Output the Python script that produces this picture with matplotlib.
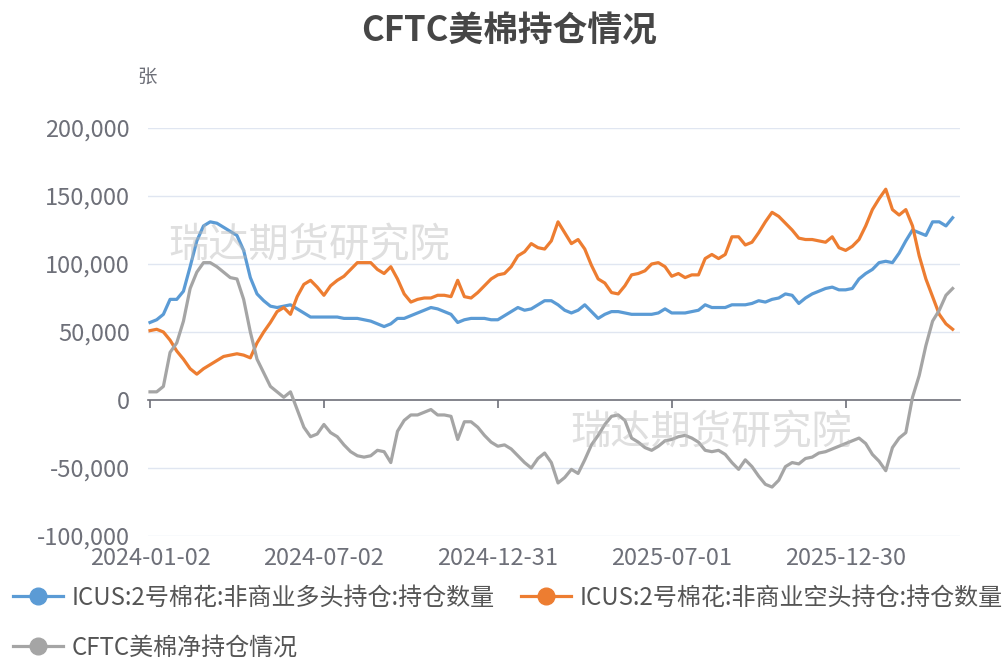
import matplotlib
matplotlib.use("Agg")
import matplotlib.pyplot as plt
from matplotlib.lines import Line2D
from matplotlib.ticker import FuncFormatter
import numpy as np
import pandas as pd

plt.rcParams['font.family'] = ['Noto Sans CJK SC', 'DejaVu Sans']

# weekly report dates (category axis)
dates = pd.date_range('2024-01-02', periods=121, freq='7D').strftime('%Y-%m-%d')

# ICUS 2号棉花 非商业多头持仓 (thousand contracts)
long_k = [57, 59, 63, 74, 74, 80, 98, 117, 128, 131, 130, 127, 124, 121, 110, 90, 78, 73, 69, 68,
          69, 70, 67, 64, 61, 61, 61, 61, 61, 60, 60, 60, 59, 58, 56, 54, 56, 60, 60, 62,
          64, 66, 68, 67, 65, 63, 57, 59, 60, 60, 60, 59, 59, 62, 65, 68, 66, 67, 70, 73,
          73, 70, 66, 64, 66, 70, 65, 60, 63, 65, 65, 64, 63, 63, 63, 63, 64, 67, 64, 64,
          64, 65, 66, 70, 68, 68, 68, 70, 70, 70, 71, 73, 72, 74, 75, 78, 77, 71, 75, 78,
          80, 82, 83, 81, 81, 82, 89, 93, 96, 101, 102, 101, 108, 117, 125, 123, 121, 131, 131, 128,
          134]
# ICUS 2号棉花 非商业空头持仓
short_k = [51, 52, 50, 44, 36, 30, 23, 19, 23, 26, 29, 32, 33, 34, 33, 31, 42, 50, 57, 65,
           68, 63, 76, 85, 88, 83, 77, 84, 88, 91, 96, 101, 101, 101, 96, 93, 98, 89, 78, 72,
           74, 75, 75, 77, 77, 76, 88, 76, 75, 79, 84, 89, 92, 93, 98, 106, 109, 115, 112, 111,
           117, 131, 123, 115, 118, 111, 99, 89, 86, 79, 78, 84, 92, 93, 95, 100, 101, 98, 91, 93,
           90, 92, 92, 104, 107, 104, 107, 120, 120, 114, 116, 123, 131, 138, 135, 130, 125, 119, 118, 118,
           117, 116, 120, 112, 110, 113, 118, 128, 140, 148, 155, 140, 136, 140, 128, 106, 89, 76, 63, 56,
           52]
# CFTC美棉净持仓
net_k = [6, 6, 10, 35, 42, 58, 82, 94, 101, 101, 98, 94, 90, 89, 74, 50, 30, 20, 10, 6,
         2, 6, -7, -20, -27, -25, -18, -24, -27, -33, -38, -41, -42, -41, -37, -38, -46, -23, -15, -11,
         -11, -9, -7, -11, -11, -12, -29, -16, -16, -20, -26, -31, -34, -33, -36, -41, -46, -50, -43, -39,
         -46, -61, -57, -51, -54, -44, -33, -26, -18, -12, -11, -15, -28, -31, -35, -37, -34, -30, -29, -27,
         -26, -28, -31, -37, -38, -37, -40, -46, -51, -44, -49, -56, -62, -64, -59, -49, -46, -47, -43, -42,
         -39, -38, -36, -34, -32, -30, -28, -32, -40, -45, -52, -35, -28, -24, 2, 18, 40, 58, 66, 77,
         82]

names = ['ICUS:2号棉花:非商业多头持仓:持仓数量', 'ICUS:2号棉花:非商业空头持仓:持仓数量', 'CFTC美棉净持仓情况']
colors = ['#5b9bd5', '#ed7d31', '#a5a5a5']
yticks = [-100000, -50000, 0, 50000, 100000, 150000, 200000]

x = np.arange(len(dates))
series = [np.array(long_k) * 1000, np.array(short_k) * 1000, np.array(net_k) * 1000]

fig = plt.figure(figsize=(10.07, 6.61), dpi=100)
ax = fig.add_axes([148 / 1007, 1 - 536 / 661, (960 - 148) / 1007, (536 - 128) / 661])

for yv in yticks:
    if yv != 0:
        ax.axhline(yv, color='#e0e6f1', lw=1, zorder=0)

for s, c in zip(series, colors):
    ax.plot(x, s, color=c, lw=2.3, solid_joinstyle='round', zorder=3)

ax.set_ylim(-100000, 200000)
ax.set_xlim(-0.3, 121.1)
ax.set_yticks(yticks)
ax.yaxis.set_major_formatter(FuncFormatter(lambda v, p: f'{int(v):,}'))
ax.tick_params(axis='y', length=0, pad=13, labelsize=17, labelcolor='#6e7079')

for sp in ['top', 'right', 'left']:
    ax.spines[sp].set_visible(False)
ax.spines['bottom'].set_position(('data', 0))
ax.spines['bottom'].set_color('#6e7079')
ax.spines['bottom'].set_linewidth(1.2)

tick_pos = x[::26]
ax.set_xticks(tick_pos)
ax.tick_params(axis='x', length=6, width=1.2, color='#6e7079', labelbottom=False)

sec = ax.secondary_xaxis('bottom')
sec.set_xticks(tick_pos, [dates[i] for i in tick_pos])
sec.tick_params(length=0, pad=8, labelsize=17, labelcolor='#6e7079')
sec.spines['bottom'].set_visible(False)

# watermarks
fig.text(168 / 1007, 1 - 246 / 661, '瑞达期货研究院', fontsize=29, color='#b8b8b8', alpha=0.45,
         va='center', ha='left', zorder=10)
fig.text(570 / 1007, 1 - 433 / 661, '瑞达期货研究院', fontsize=29, color='#b8b8b8', alpha=0.45,
         va='center', ha='left', zorder=10)

fig.text(0.506, 1 - 31 / 661, 'CFTC美棉持仓情况', fontsize=25, fontweight='bold', color='#464646',
         ha='center', va='center')
fig.text(137 / 1007, 1 - 78 / 661, '张', fontsize=14, color='#6e7079', ha='left', va='center')

handles = [Line2D([], [], color=c, lw=2.3, marker='o', markersize=12) for c in colors]
order = [0, 2, 1]
leg = fig.legend([handles[i] for i in order], [names[i] for i in order], ncol=2,
                 loc='upper left', bbox_to_anchor=(8 / 1007, 1 - 580 / 661), frameon=False,
                 fontsize=17.3, handlelength=2.1, handletextpad=0.33, columnspacing=1.1,
                 labelspacing=1.0, borderpad=0.2, borderaxespad=0)
for t in leg.get_texts():
    t.set_color('#555555')

fig.savefig('out.png', dpi=100)
